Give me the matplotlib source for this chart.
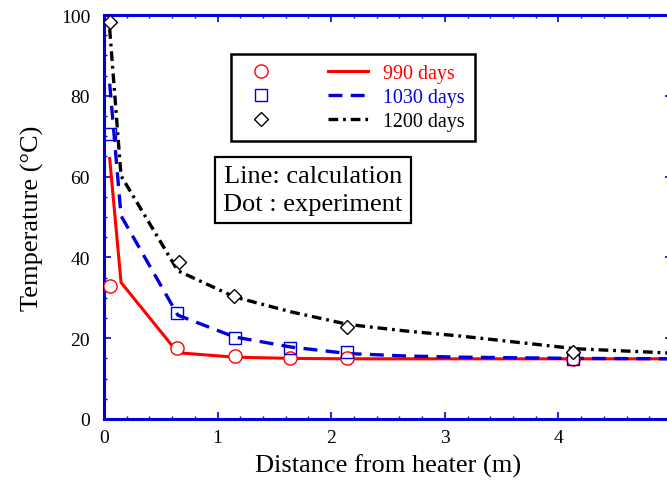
import matplotlib
matplotlib.use("Agg")
import matplotlib.pyplot as plt
from matplotlib.ticker import MultipleLocator

plt.rcParams["font.family"] = ["Liberation Serif", "DejaVu Serif"]
plt.rcParams["lines.scale_dashes"] = False

# measured points (dots)
x_meas = [0.05, 0.64, 1.15, 1.64, 2.14, 4.13]
t990_meas = [32.8, 17.6, 15.7, 15.0, 15.0, 14.8]
x_meas_1030 = [0.05, 0.64, 1.15, 1.64, 2.14, 4.13]
t1030_meas = [70.5, 26.2, 20.0, 17.6, 16.5, 14.9]
x_meas_1200 = [0.05, 0.66, 1.14, 2.14, 4.13]
t1200_meas = [98.3, 38.8, 30.5, 22.7, 16.5]

# calculated curves (lines)
x_calc = [0.05, 0.15, 0.65, 1.15, 1.65, 2.15, 2.65, 3.15, 4.15, 5.0]
t990_calc = [64.5, 33.8, 16.4, 15.3, 15.0, 14.9, 14.9, 14.9, 14.9, 14.9]
t1030_calc = [83.0, 50.3, 25.7, 20.3, 17.8, 16.2, 15.6, 15.3, 15.0, 14.9]
t1200_calc = [96.5, 60.2, 36.7, 30.2, 26.5, 23.4, 21.8, 20.5, 17.4, 16.3]

fig = plt.figure(figsize=(6.67, 4.81), dpi=100)
ax = fig.add_axes([104 / 667, 61 / 481, 568 / 667, 404 / 481])

l1, = ax.plot(x_calc, t990_calc, color="red", lw=2.2, zorder=3)
l2, = ax.plot(x_calc, t1030_calc, color="#0000dd", lw=2.4,
              dashes=(10, 6), zorder=4)
l3, = ax.plot(x_calc, t1200_calc, color="black", lw=2.4,
              dashes=(7, 3.5, 2, 3.5), zorder=5)

m1, = ax.plot(x_meas, t990_meas, "o", ms=9.5, mfc="white", mec="red",
              mew=1, ls="none", zorder=6)
m2, = ax.plot(x_meas_1030, t1030_meas, "s", ms=8.5, mfc="none", mec="#0000dd",
              mew=1, ls="none", zorder=7)
m3, = ax.plot(x_meas_1200, t1200_meas, "D", ms=7.5, mfc="white", mec="black",
              mew=1, ls="none", zorder=8)

ax.set_xlim(0, 5)
ax.set_ylim(0, 100)
ax.xaxis.set_major_locator(MultipleLocator(1))
ax.xaxis.set_minor_locator(MultipleLocator(0.2))
ax.yaxis.set_major_locator(MultipleLocator(20))
ax.yaxis.set_minor_locator(MultipleLocator(5))
ax.tick_params(which="both", direction="in", color="#0000dd",
               labelcolor="black", top=True, right=True, labelsize=14)
ax.tick_params(which="major", length=5, width=1.2, pad=7)
ax.tick_params(axis="y", which="major", pad=10)
ax.tick_params(which="minor", length=2.5, width=1)
for sp in ax.spines.values():
    sp.set_color("#0000dd")
    sp.set_linewidth(2.2)

ax.set_xlabel("Distance from heater (m)", fontsize=19, labelpad=6)
ax.set_ylabel("Temperature (°C)", fontsize=19, labelpad=12)

leg = ax.legend([m1, m2, m3, l1, l2, l3],
                ["", "", "", "990 days", "1030 days", "1200 days"],
                ncol=2, fontsize=14.4, loc="upper left",
                bbox_to_anchor=(231 / 667, 1 - 55 / 481),
                bbox_transform=fig.transFigure,
                handlelength=2, handletextpad=0.75, columnspacing=1.6,
                labelspacing=0.25, borderpad=0.5, borderaxespad=0,
                fancybox=False, framealpha=1,
                labelcolor=["red", "red", "red", "red", "#0000dd", "black"])
leg.get_frame().set_edgecolor("black")
leg.get_frame().set_linewidth(1.8)

ax.text(313 / 667, 1 - 191 / 481, "Line: calculation\nDot : experiment",
        transform=fig.transFigure, fontsize=19, ha="center", va="center",
        linespacing=1.35,
        bbox=dict(boxstyle="square,pad=0.3", fc="white", ec="black", lw=1.6))

fig.savefig("out.png", dpi=100)
